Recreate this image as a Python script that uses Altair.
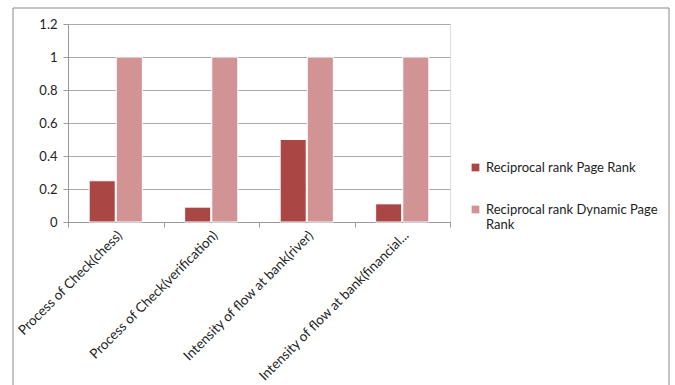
import altair as alt
import pandas as pd

categories = [
    "Process of Check(chess)",
    "Process of Check(verification)",
    "Intensity of flow at bank(river)",
    "Intensity of flow at bank(financial...",
]
series_names = ["Reciprocal rank Page Rank", "Reciprocal rank Dynamic Page Rank"]
page_rank = [0.25, 0.09, 0.5, 0.11]
dynamic_page_rank = [1.0, 1.0, 1.0, 1.0]
y_ticks = [0, 0.2, 0.4, 0.6, 0.8, 1.0, 1.2]
colors = ["#AA4644", "#D19393"]

rows = []
for c, a, b in zip(categories, page_rank, dynamic_page_rank):
    rows.append({"category": c, "series": series_names[0], "value": a})
    rows.append({"category": c, "series": series_names[1], "value": b})
df = pd.DataFrame(rows)

FONT = "Lato"

bars = alt.Chart(df).mark_bar(stroke="white", strokeWidth=1).encode(
    x=alt.X(
        "category:N",
        sort=categories,
        scale=alt.Scale(paddingInner=0, paddingOuter=0),
        axis=alt.Axis(
            title=None,
            labelAngle=-45,
            labelAlign="right",
            labelBaseline="middle",
            labelFont=FONT,
            labelFontSize=13.5,
            labelColor="#222",
            labelPadding=6,
            labelOffset=4,
            labelLimit=300,
            tickBand="extent",
            ticks=True,
            tickSize=5,
            tickColor="#999",
            domainColor="#999",
            grid=False,
        ),
    ),
    xOffset=alt.XOffset(
        "series:N",
        sort=series_names,
        scale=alt.Scale(paddingInner=0.04, paddingOuter=0.78),
    ),
    y=alt.Y(
        "value:Q",
        scale=alt.Scale(domain=[0, 1.2], nice=False),
        axis=alt.Axis(
            title=None,
            values=y_ticks,
            format=".1~f",
            labelFont=FONT,
            labelFontSize=13,
            labelColor="#222",
            labelPadding=6,
            tickSize=5,
            tickColor="#999",
            domainColor="#999",
            gridColor="#aaa",
            gridWidth=1,
        ),
    ),
    color=alt.Color(
        "series:N",
        sort=series_names,
        scale=alt.Scale(domain=series_names, range=colors),
        legend=alt.Legend(
            title=None,
            orient="none",
            legendX=401,
            legendY=137,
            padding=0,
            symbolType="square",
            symbolSize=60,
            symbolStrokeWidth=0,
            labelFont=FONT,
            labelFontSize=13,
            labelColor="#222",
            labelLimit=300,
            rowPadding=28,
            labelExpr="datum.label == 'Reciprocal rank Dynamic Page Rank' ? ['Reciprocal rank Dynamic Page', 'Rank'] : datum.label",
        ),
    ),
)

border = alt.Chart(alt.Data(values=[{"a": 1}])).mark_rect(
    fill=None, stroke="#888", strokeWidth=1
).encode(
    x=alt.value(-55), x2=alt.value(601), y=alt.value(-16), y2=alt.value(380)
)

chart = alt.layer(border, bars).properties(
    width=382,
    height=198,
    autosize=alt.AutoSizeParams(type="none"),
    padding={"left": 68, "top": 24, "right": 225, "bottom": 163},
).configure_view(stroke=None).configure(background="white")

chart.save("out.html", embed_options={"renderer": "svg", "actions": False})
